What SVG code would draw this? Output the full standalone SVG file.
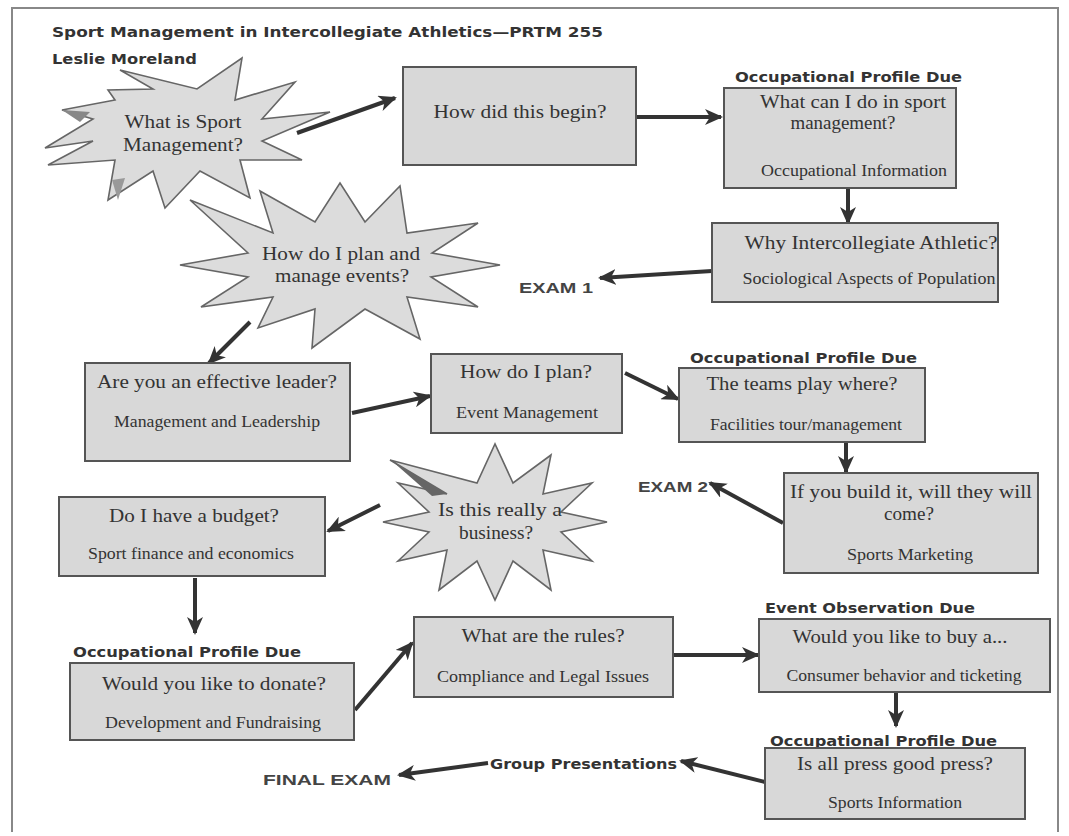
<svg xmlns="http://www.w3.org/2000/svg" width="1069" height="836" viewBox="0 0 1069 836">
<defs>
<style>
.box{fill:#d8d8d8;stroke:#555;stroke-width:2}
.star{fill:#dcdcdc;stroke:#666;stroke-width:1.6;stroke-linejoin:miter}
.q{font-family:"Liberation Serif","Times New Roman",serif;font-size:19px;fill:#333;text-anchor:middle}
.s{font-family:"Liberation Serif","Times New Roman",serif;font-size:16px;fill:#333;text-anchor:middle}
.h{font-family:"DejaVu Sans",Verdana,sans-serif;font-weight:bold;font-size:14px;fill:#333}
.ex{font-family:"Liberation Sans",Arial,sans-serif;font-weight:bold;font-size:15px;fill:#444}
.c{stroke:#333;stroke-width:4;fill:none;marker-end:url(#ah)}
</style>
<marker id="ah" markerUnits="userSpaceOnUse" markerWidth="20" markerHeight="16" refX="16" refY="8" orient="auto">
<path d="M0,0 L18,8 L0,16 L5,8 Z" fill="#333"/>
</marker>
</defs>
<rect width="1069" height="836" fill="#ffffff"/>
<path d="M12,832 L12,8 L1058,8 L1058,832" fill="none" stroke="#888" stroke-width="2"/>

<g id="title">
<text class="h" x="52" y="37" font-size="16" textLength="551" lengthAdjust="spacingAndGlyphs">Sport Management in Intercollegiate Athletics—PRTM 255</text>
<text class="h" x="52" y="64" font-size="16" textLength="145" lengthAdjust="spacingAndGlyphs">Leslie Moreland</text>
</g>

<g id="connectors">
<line class="c" x1="297" y1="133" x2="395" y2="98"/>
<line class="c" x1="637" y1="117" x2="721" y2="117"/>
<line class="c" x1="848" y1="188" x2="848" y2="223"/>
<line class="c" x1="712" y1="271" x2="600" y2="278"/>
<line class="c" x1="250" y1="322" x2="209" y2="363"/>
<line class="c" x1="352" y1="413" x2="430" y2="396"/>
<line class="c" x1="625" y1="373" x2="678" y2="399"/>
<line class="c" x1="846" y1="443" x2="846" y2="472"/>
<line class="c" x1="783" y1="523" x2="710" y2="483"/>
<line class="c" x1="380" y1="505" x2="328" y2="531"/>
<line class="c" x1="195" y1="578" x2="195" y2="633"/>
<line class="c" x1="355" y1="710" x2="412" y2="643"/>
<line class="c" x1="673" y1="655" x2="758" y2="655"/>
<line class="c" x1="896" y1="693" x2="896" y2="726"/>
<line class="c" x1="765" y1="782" x2="681" y2="761"/>
<line class="c" x1="488" y1="763" x2="399" y2="775"/>
</g>

<g id="n1">
<polygon class="star" points="330,112 262,141 302,160 240,160 250,198 200,171 165,208 153,171 108,200 115,160 48,165 93,141 45,148 93,119 62,110 115,100 108,90 153,89 120,70 197,89 242,58 235,100 295,82 262,119"/>
<polygon points="62,110 90,112 80,122" fill="#888"/>
<polygon points="112,180 125,178 118,200" fill="#999"/>
<text class="q" x="183" y="128" textLength="117" lengthAdjust="spacingAndGlyphs">What is Sport</text>
<text class="q" x="183" y="151" textLength="120" lengthAdjust="spacingAndGlyphs">Management?</text>
</g>

<g id="n2">
<rect class="box" x="403" y="67" width="233" height="98"/>
<text class="q" x="520" y="118" textLength="173" lengthAdjust="spacingAndGlyphs">How did this begin?</text>
</g>

<g id="n3">
<text class="h" x="735" y="82" textLength="227" lengthAdjust="spacingAndGlyphs">Occupational Profile Due</text>
<rect class="box" x="724" y="88" width="232" height="100"/>
<text class="q" x="853" y="108" textLength="186" lengthAdjust="spacingAndGlyphs">What can I do in sport</text>
<text class="q" x="843" y="129" textLength="105" lengthAdjust="spacingAndGlyphs">management?</text>
<text class="s" x="854" y="176" textLength="186" lengthAdjust="spacingAndGlyphs">Occupational Information</text>
</g>

<g id="n4">
<rect class="box" x="712" y="223" width="286" height="79"/>
<text class="q" x="871" y="249" textLength="253" lengthAdjust="spacingAndGlyphs">Why Intercollegiate Athletic?</text>
<text class="s" x="869" y="284" textLength="253" lengthAdjust="spacingAndGlyphs">Sociological Aspects of Population</text>
</g>

<g id="exam1">
<text class="ex" x="519" y="293" textLength="74" lengthAdjust="spacingAndGlyphs">EXAM 1</text>
</g>

<g id="n5">
<polygon class="star" points="500,265 431,277 478,307 407,297 420,339 365,309 312,348 315,309 258,328 273,297 201,307 248,277 180,265 248,253 190,200 273,233 260,191 315,222 340,183 365,222 400,186 407,233 478,223 432,253"/>
<text class="q" x="341" y="260" textLength="158" lengthAdjust="spacingAndGlyphs">How do I plan and</text>
<text class="q" x="342" y="282" textLength="134" lengthAdjust="spacingAndGlyphs">manage events?</text>
</g>

<g id="n6">
<rect class="box" x="85" y="363" width="265" height="98"/>
<text class="q" x="217" y="388" textLength="240" lengthAdjust="spacingAndGlyphs">Are you an effective leader?</text>
<text class="s" x="217" y="427" textLength="206" lengthAdjust="spacingAndGlyphs">Management and Leadership</text>
</g>

<g id="n7">
<rect class="box" x="431" y="354" width="191" height="79"/>
<text class="q" x="526" y="378" textLength="132" lengthAdjust="spacingAndGlyphs">How do I plan?</text>
<text class="s" x="527" y="418" textLength="142" lengthAdjust="spacingAndGlyphs">Event Management</text>
</g>

<g id="n8">
<text class="h" x="690" y="363" textLength="227" lengthAdjust="spacingAndGlyphs">Occupational Profile Due</text>
<rect class="box" x="679" y="368" width="246" height="74"/>
<text class="q" x="802" y="390" textLength="191" lengthAdjust="spacingAndGlyphs">The teams play where?</text>
<text class="s" x="806" y="430" textLength="192" lengthAdjust="spacingAndGlyphs">Facilities tour/management</text>
</g>

<g id="n9">
<rect class="box" x="784" y="473" width="254" height="100"/>
<text class="q" x="911" y="498" textLength="242" lengthAdjust="spacingAndGlyphs">If you build it, will they will</text>
<text class="q" x="909" y="520" textLength="50" lengthAdjust="spacingAndGlyphs">come?</text>
<text class="s" x="910" y="560" textLength="126" lengthAdjust="spacingAndGlyphs">Sports Marketing</text>
</g>

<g id="exam2">
<text class="ex" x="638" y="492" textLength="70" lengthAdjust="spacingAndGlyphs">EXAM 2</text>
</g>

<g id="n10">
<polygon class="star" points="607,522 561,532 592,561 543,550 551,590 513,561 495,600 477,561 439,590 447,550 398,561 429,532 383,522 429,512 398,483 447,494 390,460 477,483 495,444 513,483 551,455 543,494 592,483 561,512"/>
<polygon points="392,461 447,494 432,496" fill="#666"/>
<text class="q" x="500" y="516" textLength="124" lengthAdjust="spacingAndGlyphs">Is this really a</text>
<text class="q" x="496" y="539" textLength="74" lengthAdjust="spacingAndGlyphs">business?</text>
</g>

<g id="n11">
<rect class="box" x="59" y="497" width="266" height="79"/>
<text class="q" x="194" y="522" textLength="170" lengthAdjust="spacingAndGlyphs">Do I have a budget?</text>
<text class="s" x="191" y="559" textLength="206" lengthAdjust="spacingAndGlyphs">Sport finance and economics</text>
</g>

<g id="n12">
<text class="h" x="73" y="657" textLength="228" lengthAdjust="spacingAndGlyphs">Occupational Profile Due</text>
<rect class="box" x="70" y="663" width="284" height="77"/>
<text class="q" x="214" y="690" textLength="224" lengthAdjust="spacingAndGlyphs">Would you like to donate?</text>
<text class="s" x="213" y="728" textLength="216" lengthAdjust="spacingAndGlyphs">Development and Fundraising</text>
</g>

<g id="n13">
<rect class="box" x="414" y="617" width="259" height="80"/>
<text class="q" x="543" y="642" textLength="163" lengthAdjust="spacingAndGlyphs">What are the rules?</text>
<text class="s" x="543" y="682" textLength="212" lengthAdjust="spacingAndGlyphs">Compliance and Legal Issues</text>
</g>

<g id="n14">
<text class="h" x="765" y="613" textLength="210" lengthAdjust="spacingAndGlyphs">Event Observation Due</text>
<rect class="box" x="759" y="619" width="291" height="73"/>
<text class="q" x="900" y="643" textLength="215" lengthAdjust="spacingAndGlyphs">Would you like to buy a...</text>
<text class="s" x="904" y="681" textLength="235" lengthAdjust="spacingAndGlyphs">Consumer behavior and ticketing</text>
</g>

<g id="n15">
<text class="h" x="770" y="746" textLength="227" lengthAdjust="spacingAndGlyphs">Occupational Profile Due</text>
<rect class="box" x="765" y="748" width="260" height="71"/>
<text class="q" x="895" y="770" textLength="196" lengthAdjust="spacingAndGlyphs">Is all press good press?</text>
<text class="s" x="895" y="808" textLength="134" lengthAdjust="spacingAndGlyphs">Sports Information</text>
</g>

<g id="group">
<text class="h" x="490" y="769" textLength="187" lengthAdjust="spacingAndGlyphs">Group Presentations</text>
</g>

<g id="final">
<text class="ex" x="263" y="785" textLength="128" lengthAdjust="spacingAndGlyphs">FINAL EXAM</text>
</g>
</svg>
